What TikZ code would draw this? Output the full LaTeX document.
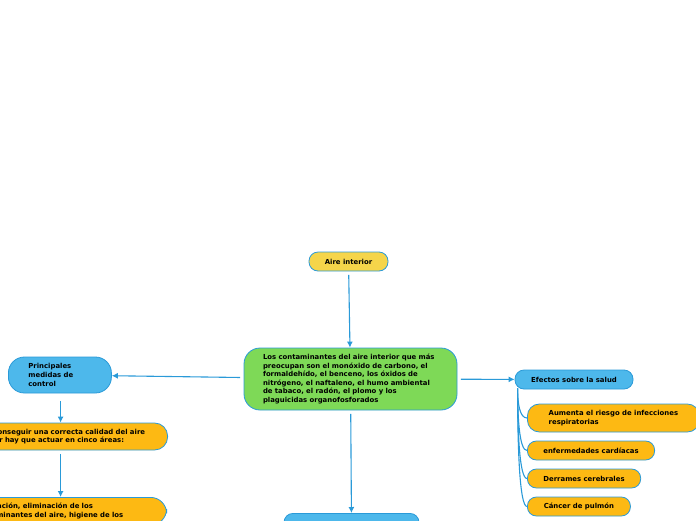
\documentclass[tikz,border=0pt]{standalone}
\usepackage{fontspec}
\setmainfont{DejaVu Sans}
\usetikzlibrary{positioning, arrows.meta, calc}
\definecolor{mmblue}{HTML}{4DB8EB}
\definecolor{mmline}{HTML}{2A9AD8}
\definecolor{mmyellow}{HTML}{F5D54A}
\definecolor{mmorange}{HTML}{FDB913}
\definecolor{mmgreen}{HTML}{7ED957}
\tikzset{
  idea/.style={draw=mmline, line width=0.8pt, rounded corners=9pt, align=left,
               inner ysep=0pt, inner xsep=20pt},
  link/.style={draw=mmline, line width=1.1pt, -{Latex[length=6pt,width=6pt]}, shorten <=3.5pt},
  branch/.style={draw=mmline, line width=1.1pt},
}

\begin{document}
\begin{tikzpicture}[x=1pt, y=1pt, font=\fontsize{6.9}{8.6}\selectfont\bfseries]
    \useasboundingbox (0,0) rectangle (696,-520);
    \clip (0,0) rectangle (696,-520);
    % central idea and its parent
    \node[idea, fill=mmyellow, inner xsep=0pt, align=center, minimum width=79pt,
          minimum height=19pt] (aire) at (348.5,-261.5) {Aire interior};
    \node[idea, fill=mmgreen, rounded corners=16pt, inner xsep=19pt, text width=175pt,
          minimum height=62pt] (centro) at (350.5,-379) {Los contaminantes del aire interior que más\\
          preocupan son el monóxido de carbono, el\\formaldehído, el benceno, los óxidos de\\
          nitrógeno, el naftaleno, el humo ambiental\\de tabaco, el radón, el plomo y los\\
          plaguicidas organofosforados};
    % left branch
    \node[idea, fill=mmblue, rounded corners=16pt, text width=63pt, minimum height=36pt,
          anchor=west] (medidas) at (8,-375) {Principales\\medidas de\\control};
    \node[idea, fill=mmorange, rounded corners=13pt, text width=174pt, minimum height=27pt,
          anchor=east] (areas) at (168,-436.5) {Para conseguir una correcta calidad del aire\\
          interior hay que actuar en cinco áreas:};
    \node[idea, fill=mmorange, rounded corners=16pt, text width=172pt, inner ysep=6pt,
          anchor=north east] (ventila) at (167,-497) {Ventilación, eliminación de los\\
          contaminantes del aire, higiene de los};
    % bottom branch
    \node[idea, fill=mmblue, minimum width=135pt, minimum height=22pt,
          anchor=north] (abajo) at (351.5,-513) {};
    % right branch
    \node[idea, fill=mmblue, inner xsep=0pt, align=center, minimum width=118pt,
          minimum height=19pt] (efectos) at (574,-379.5) {Efectos sobre la salud};
    \node[idea, fill=mmorange, rounded corners=12pt, minimum width=172pt, minimum height=28pt,
          anchor=west] (riesgo) at (527,-418) {Aumenta el riesgo de infecciones\\respiratorias};
    \foreach \y/\w/\n/\t in {-450.5/127/cardio/enfermedades cardíacas,
                             -478.5/113/derrame/Derrames cerebrales,
                             -506.5/103/pulmon/Cáncer de pulmón}{
      \node[idea, fill=mmorange, inner xsep=16pt, minimum width=\w pt, minimum height=19pt,
            anchor=west] (\n) at (527,\y) {\t};
    }
    % connectors
    \draw[link] (aire) -- (centro);
    \draw[link] (centro) -- (medidas);
    \draw[link] (centro) -- (abajo);
    \draw[link] (centro) -- (efectos);
    \draw[link] (medidas.south -| areas) ++(0,-4) coordinate (m1) -- (areas);
    \draw[link] (areas) -- (ventila);
    \coordinate (efroot) at ([xshift=3pt,yshift=1pt]efectos.south west);
    \foreach \n in {riesgo, cardio, derrame, pulmon}
      \draw[branch] (efroot) .. controls ($(efroot)!0.5!(efroot |- \n.west)$)
                    and ($(efroot |- \n.west)+(2,0)$) .. (\n.west);
\end{tikzpicture}
\end{document}
